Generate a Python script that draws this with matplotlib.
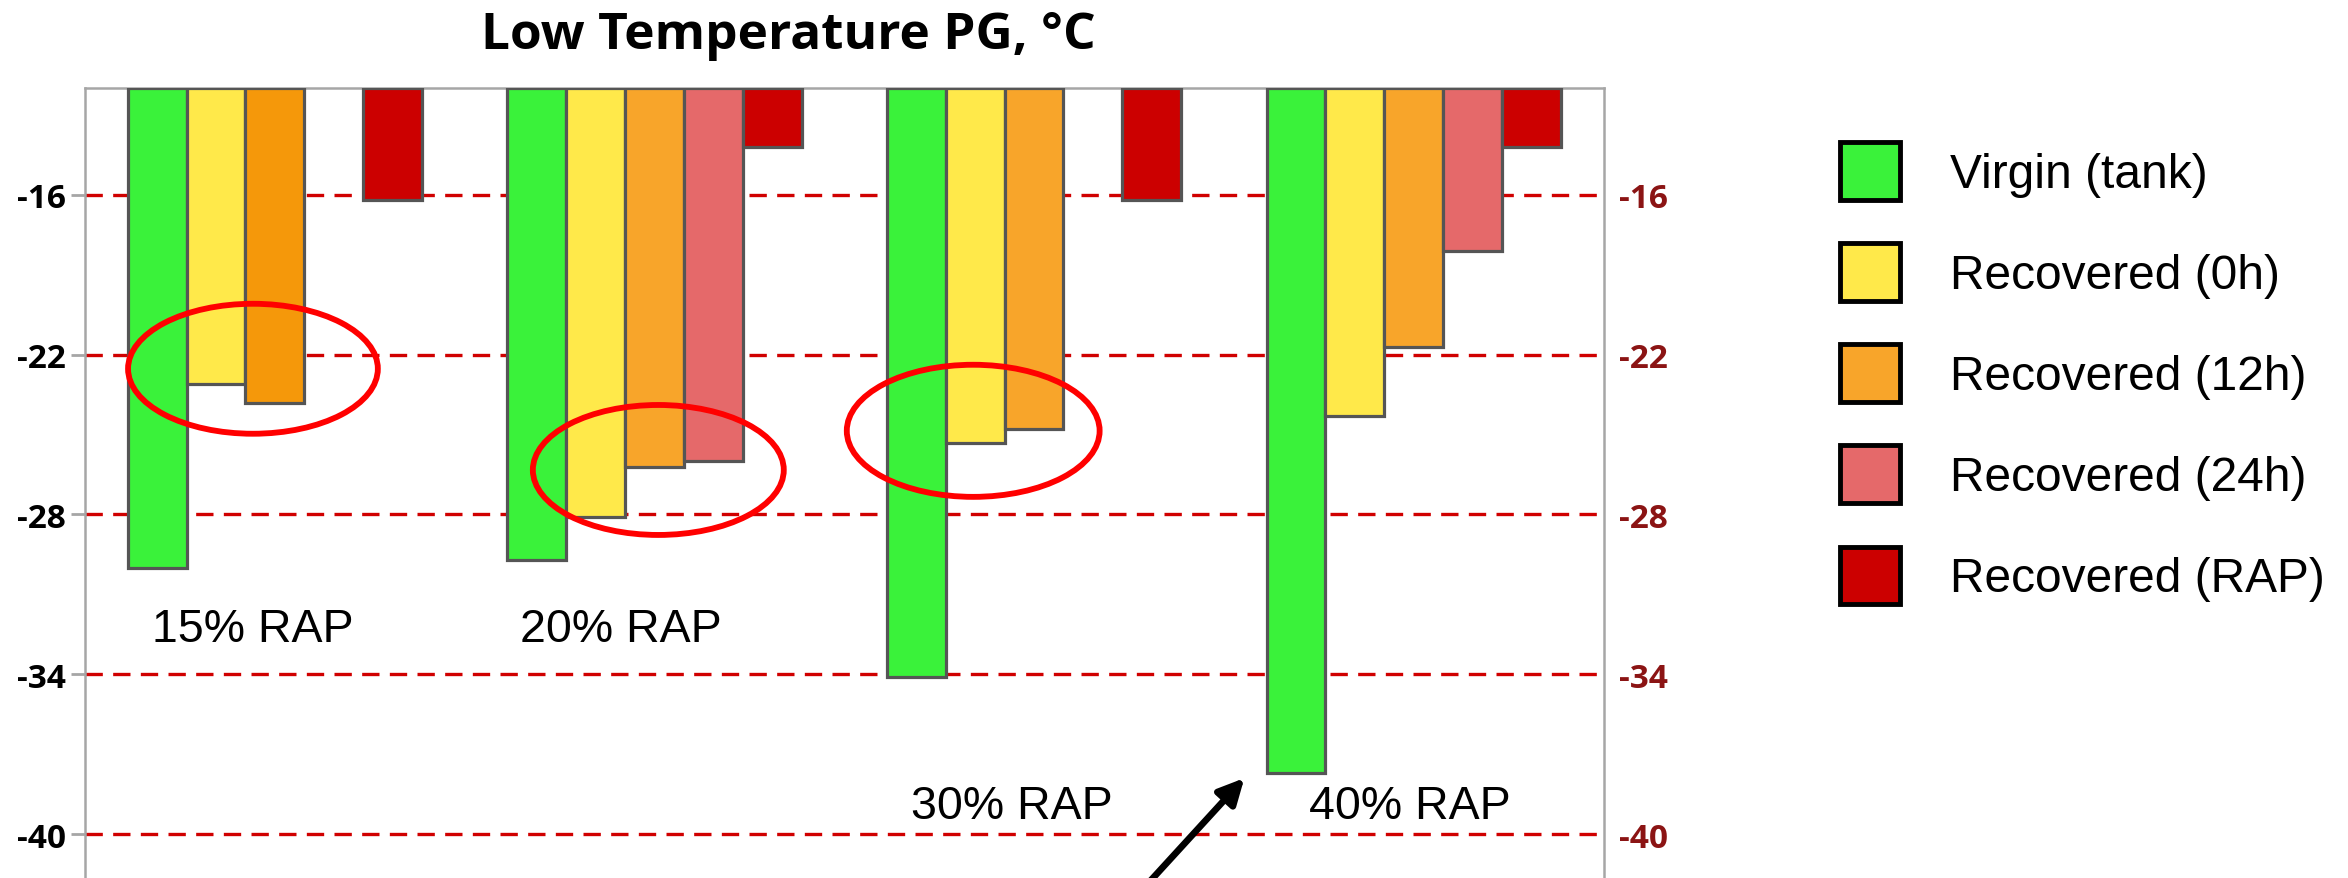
import numpy as np
import matplotlib
matplotlib.use("Agg")
import matplotlib.pyplot as plt
from matplotlib.patches import Ellipse, Patch

plt.rcParams["axes.unicode_minus"] = False

# ---- data -------------------------------------------------------------
groups = ["15% RAP", "20% RAP", "30% RAP", "40% RAP"]
series_names = ["Virgin (tank)", "Recovered (0h)", "Recovered (12h)",
                "Recovered (24h)", "Recovered (RAP)"]
virgin_tank = [-30.0, -29.7, -34.1, -37.7]
recovered_0h = [-23.1, -28.1, -25.3, -24.3]
recovered_12h = [-23.8, -26.2, -24.8, -21.7]
recovered_24h = [np.nan, -26.0, np.nan, -18.1]
recovered_rap = [-16.2, -14.2, -16.2, -14.2]
y_ticks = [-40, -34, -28, -22, -16]
axis_top = -12.0

series = [virgin_tank, recovered_0h, recovered_12h, recovered_24h, recovered_rap]
series_colors = ["#3AF23A", "#FFE94A", "#F8A52A", "#E5696A", "#CC0000"]
orange_by_group = ["#F5980A", "#F8A52A", "#F8A52A", "#F8A52A"]

# ---- figure / axes ----------------------------------------------------
W, H = 2348, 879
fig = plt.figure(figsize=(W / 100, H / 100), dpi=100)
ax = fig.add_axes([85 / W, 0.0, 1518.5 / W, (H - 89.3) / H])

x = np.arange(len(groups))
bw = 0.155
for i, vals in enumerate(series):
    vals = np.asarray(vals, dtype=float)
    colors = orange_by_group if i == 2 else series_colors[i]
    ax.bar(x + (i - 2) * bw, vals - axis_top, bottom=axis_top, width=bw,
           color=colors, edgecolor="#555555", linewidth=2.3, zorder=3)

ax.set_xlim(-0.5, 3.5)
ax.set_ylim(-41.65, axis_top)
ax.set_xticks([])
ax.set_yticks(y_ticks)
ax.set_yticklabels([str(t) for t in y_ticks])

ax.set_axisbelow(True)
ax.grid(axis="y", color="#D00000", linewidth=2.4, linestyle=(0, (5.2, 3.1)))

for side in ("top", "left", "right"):
    ax.spines[side].set_color("#A6A6A6")
    ax.spines[side].set_linewidth(1.8)
ax.spines["bottom"].set_visible(False)

ax.tick_params(axis="y", left=True, length=10, width=2, color="#A6A6A6",
               pad=4, labelsize=24, labelcolor="black")
for lab in ax.get_yticklabels():
    lab.set_fontweight("bold")
    lab.set_family("Open Sans")

# right-hand tick labels in dark red
ax2 = ax.twinx()
ax2.set_ylim(ax.get_ylim())
ax2.set_yticks(y_ticks)
ax2.set_yticklabels([str(t) for t in y_ticks])
for s in ax2.spines.values():
    s.set_visible(False)
ax2.tick_params(axis="y", length=0, pad=11, labelsize=24, labelcolor="#8B1414")
for lab in ax2.get_yticklabels():
    lab.set_fontweight("bold")
    lab.set_family("Open Sans")

# group labels
label_pos = [(-0.059, -32.74), (0.912, -32.74), (1.942, -39.40), (2.9905, -39.40)]
for name, (lx, ly) in zip(groups, label_pos):
    ax.text(lx, ly, name, ha="center", va="baseline", fontsize=33.5,
            family="Liberation Sans", color="black", zorder=5)

# highlight rings
for cx, cy, ew, eh in [(-0.0576, -22.53, 0.658, 4.88),
                       (1.0102, -26.33, 0.661, 4.88),
                       (1.8397, -24.86, 0.666, 4.96)]:
    ax.add_patch(Ellipse((cx, cy), ew, eh, fill=False, edgecolor="#FF0000",
                         linewidth=4.2, zorder=6, clip_on=False))

# pointer arrow
ax.annotate("", xy=(2.554, -37.9), xytext=(2.2266, -43.0),
            arrowprops=dict(arrowstyle="-|>", lw=4.8, color="black",
                            mutation_scale=38, shrinkA=0, shrinkB=0),
            annotation_clip=False, zorder=7)

# title
fig.text(788.5 / W, 1 - 49.3 / H, "Low Temperature PG, °C", ha="center",
         va="baseline", fontsize=37, fontweight="bold", family="Open Sans")

# legend
handles = [Patch(facecolor=c, edgecolor="black", linewidth=3.5)
           for c in series_colors]
fig.legend(handles, series_names, loc="upper left",
           bbox_to_anchor=(1840 / W, 1 - 143 / H), frameon=False,
           prop={"family": "Liberation Sans", "size": 34.5},
           handlelength=1.25, handleheight=1.47, handletextpad=1.05,
           labelspacing=0.91, borderpad=0, borderaxespad=0)

fig.savefig("out.png", dpi=100)
